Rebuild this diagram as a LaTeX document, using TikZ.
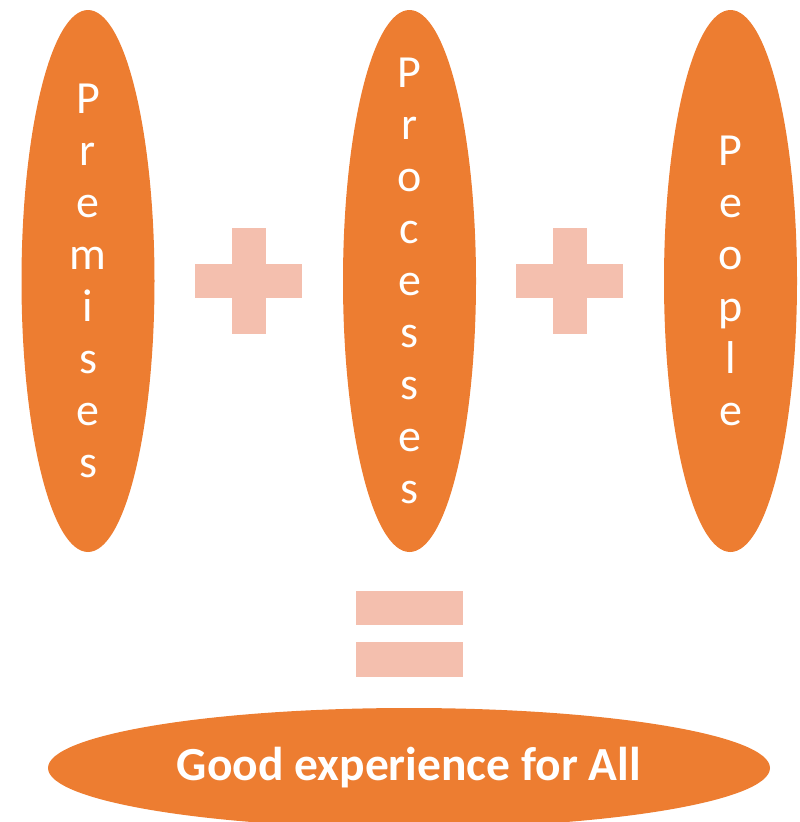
\documentclass[tikz,border=0pt]{standalone}
\usepackage{fontspec}
\setmainfont{Carlito}
\usetikzlibrary{shapes.geometric}
\definecolor{accentorange}{HTML}{ED7D31}
\definecolor{softpink}{HTML}{F4BFAE}
\begin{document}
\begin{tikzpicture}[x=1pt,y=-1pt,
  pillar/.style={ellipse,fill=accentorange,draw=none,inner sep=0pt,
    minimum width=133pt,minimum height=542pt},
  vword/.style={text=white,align=center,inner sep=0pt,
    font=\fontsize{46}{52}\selectfont},
  bar/.style={fill=softpink,draw=none}]
\useasboundingbox (0,0) rectangle (800,822);

% three tall pillars with their vertical words
\node[pillar] (premises) at (88,281) {};
\node[vword] (premisesText) at (premises.center) {P\\r\\e\\m\\i\\s\\e\\s};
\node[pillar] (processes) at (409.5,281) {};
\node[vword] (processesText) at (processes.center) {P\\r\\o\\c\\e\\s\\s\\e\\s};
\node[pillar] (people) at (730.5,281) {};
\node[vword] (peopleText) at (people.center) {P\\e\\o\\p\\l\\e};

% plus signs
\fill[bar] (195,264) rectangle (302,298);
\fill[bar] (232,228) rectangle (266,334);
\fill[bar] (516,264) rectangle (623,298);
\fill[bar] (553,228) rectangle (587,334);

% equals sign
\fill[bar] (356,591) rectangle (463,625);
\fill[bar] (356,642) rectangle (463,677);

% result
\node[ellipse,fill=accentorange,draw=none,inner sep=0pt,
  minimum width=722pt,minimum height=120pt] (result) at (409,768) {};
\node[text=white,inner sep=0pt,font=\fontsize{47.5}{57}\bfseries]
  (resultText) at (result.center) {Good experience for All};
\end{tikzpicture}
\end{document}
